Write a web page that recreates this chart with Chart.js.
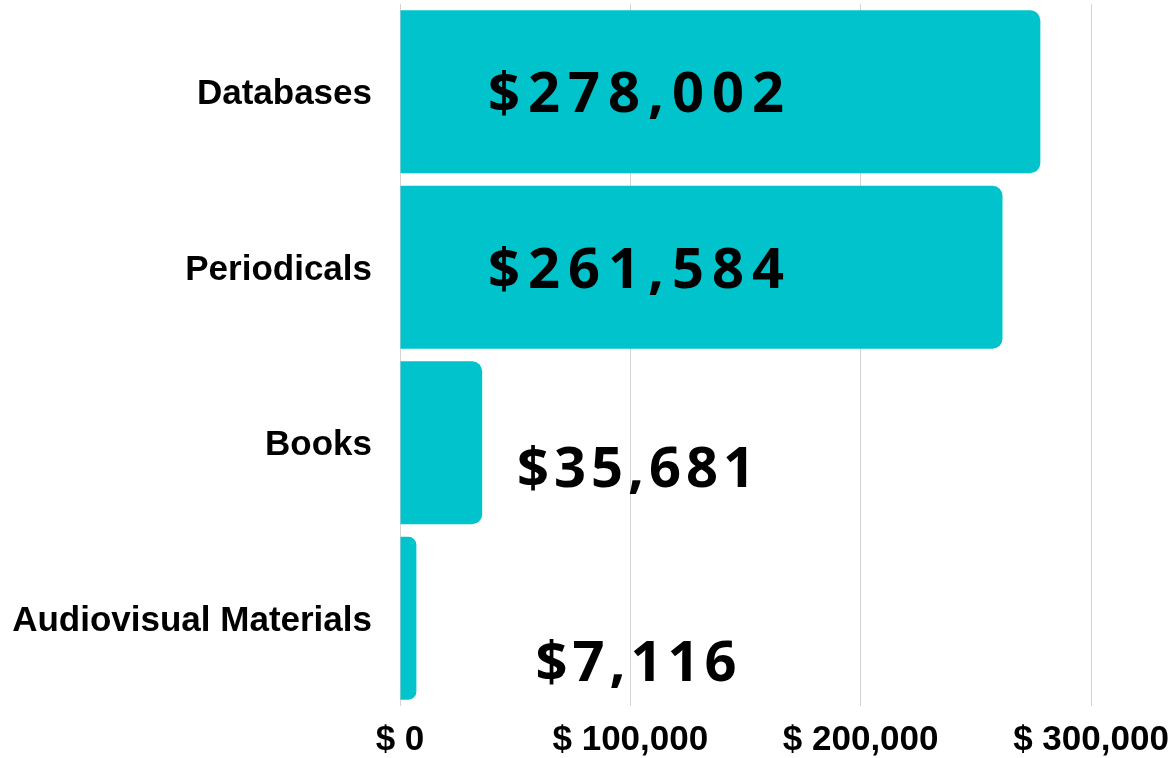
<!DOCTYPE html>
<html>
<head>
<meta charset="utf-8">
<script src="https://cdn.jsdelivr.net/npm/chart.js@4.4.1/dist/chart.umd.min.js"></script>
<style>
    html, body { margin: 0; padding: 0; background: #fff; }
    #wrap { width: 1176px; height: 758px; position: relative; }
</style>
</head>
<body>
<div id="wrap"><canvas id="spendChart"></canvas></div>
<script>
// Data
const categories = ['Databases', 'Periodicals', 'Books', 'Audiovisual Materials'];
const spending = [278002, 261584, 35681, 7116];
const axisTicks = [0, 100000, 200000, 300000];

// Value label placement (style only)
const labelCenterValue = 102500;
const labelYOffset = [4, 5, 28, 47];
const labelSpacing = [8, 8, 5, 5];

function formatMoney(v) {
    return '$' + v.toLocaleString('en-US');
}

const valueLabels = {
    id: 'valueLabels',
    afterDatasetsDraw(chart) {
        const ctx = chart.ctx;
        const meta = chart.getDatasetMeta(0);
        const xScale = chart.scales.x;
        ctx.save();
        ctx.fillStyle = '#000';
        ctx.font = 'bold 56px "Open Sans"';
        ctx.textAlign = 'center';
        ctx.textBaseline = 'middle';
        meta.data.forEach((bar, i) => {
            ctx.letterSpacing = labelSpacing[i] + 'px';
            const x = xScale.getPixelForValue(labelCenterValue) + labelSpacing[i] / 2;
            ctx.fillText(formatMoney(spending[i]), x, bar.y + labelYOffset[i]);
        });
        ctx.restore();
    }
};

const axisFont = { family: '"Liberation Sans", Arial, sans-serif', size: 35, weight: 'bold' };

new Chart(document.getElementById('spendChart'), {
    type: 'bar',
    data: {
        labels: categories,
        datasets: [{
            data: spending,
            backgroundColor: '#00C3CC',
            borderRadius: 10,
            borderSkipped: 'start',
            barPercentage: 0.928,
            categoryPercentage: 1.0
        }]
    },
    options: {
        indexAxis: 'y',
        responsive: true,
        maintainAspectRatio: false,
        animation: false,
        layout: { padding: { top: 4, right: 0, bottom: 0, left: 0 } },
        plugins: {
            legend: { display: false },
            tooltip: { enabled: false }
        },
        scales: {
            x: {
                min: 0,
                max: 300000,
                afterBuildTicks: (scale) => {
                    scale.ticks = axisTicks.map(v => ({ value: v }));
                },
                afterFit: (scale) => {
                    scale.height = 52;
                    scale.paddingLeft = 0;
                    scale.paddingRight = 85;
                },
                ticks: {
                    color: '#000',
                    font: axisFont,
                    padding: 13,
                    callback: (v) => '$ ' + Number(v).toLocaleString('en-US')
                },
                grid: { color: '#d4d4d4', lineWidth: 1, drawTicks: false },
                border: { display: false }
            },
            y: {
                afterFit: (scale) => {
                    scale.width = 400;
                    scale.paddingTop = 0;
                    scale.paddingBottom = 0;
                },
                ticks: {
                    color: '#000',
                    font: axisFont,
                    padding: 28,
                    labelOffset: 3
                },
                grid: { display: false, drawTicks: false },
                border: { display: false }
            }
        }
    },
    plugins: [valueLabels]
});
</script>
</body>
</html>
